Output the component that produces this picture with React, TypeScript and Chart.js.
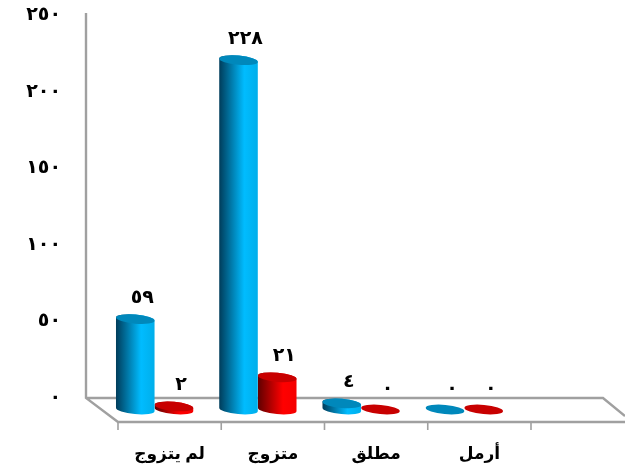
import React, { useEffect, useRef } from "react";
import { Chart, registerables } from "chart.js";

Chart.register(...registerables);

const categories = ["لم يتزوج", "متزوج", "مطلق", "أرمل"];
const blueValues = [59, 228, 4, 0];
const redValues = [2, 21, 0, 0];
const blueLabels = ["٥٩", "٢٢٨", "٤", "٠"];
const redLabels = ["٢", "٢١", "٠", "٠"];
const yTickLabels: Record<number, string> = { 0: "٠", 50: "٥٠", 100: "١٠٠", 150: "١٥٠", 200: "٢٠٠", 250: "٢٥٠" };

const FAMILY = "'Liberation Serif', 'DejaVu Sans', serif";
const DEPTH_X = -15;
const DEPTH_Y = 11.5;
const TILT = 0.09;
const RY = 4.6;

const shades = [
  { dark: "#003c5a", mid: "#00bcff", end: "#00aeea", cap: "#0088bb" },
  { dark: "#5f0000", mid: "#ff0000", end: "#f40000", cap: "#c80000" },
];

function cylinder(ctx: CanvasRenderingContext2D, bar: any, ds: number) {
  const s = shades[ds];
  const rx = bar.width / 2;
  const cx = bar.x + DEPTH_X;
  const top = bar.y + DEPTH_Y;
  const bottom = bar.base + DEPTH_Y;
  if (bottom - top > 0.5) {
    const g = ctx.createLinearGradient(cx - rx, 0, cx + rx, 0);
    g.addColorStop(0, s.dark);
    g.addColorStop(0.65, s.mid);
    g.addColorStop(1, s.end);
    ctx.fillStyle = g;
    ctx.beginPath();
    ctx.ellipse(cx, top, rx, RY, TILT, Math.PI, 0, false);
    ctx.ellipse(cx, bottom, rx, RY, TILT, 0, Math.PI, false);
    ctx.closePath();
    ctx.fill();
  }
  ctx.fillStyle = s.cap;
  ctx.beginPath();
  ctx.ellipse(cx, top, rx, RY, TILT, 0, Math.PI * 2);
  ctx.fill();
}

const scene = {
  id: "scene",
  beforeDraw(chart: any) {
    chart.ctx.letterSpacing = "3px";
  },
  beforeDatasetsDraw(chart: any) {
    const { ctx, chartArea: a } = chart;
    ctx.letterSpacing = "0px";
    ctx.save();
    ctx.strokeStyle = "#a0a0a0";
    ctx.lineWidth = 2.4;
    ctx.lineJoin = "miter";
    const backX = a.left - 32;
    const frontY = a.bottom + 24;
    ctx.beginPath();
    ctx.moveTo(backX, a.top - 2);
    ctx.lineTo(backX, a.bottom);
    ctx.lineTo(a.left, frontY);
    ctx.lineTo(chart.width, frontY);
    ctx.moveTo(backX, a.bottom);
    ctx.lineTo(a.right + 72, a.bottom);
    ctx.lineTo(chart.width, a.bottom + 18);
    ctx.stroke();
    const x = chart.scales.x;
    ctx.lineWidth = 1.6;
    ctx.beginPath();
    for (let i = 0; i <= categories.length; i++) {
      const tx = a.left + (i * (x.right - x.left)) / categories.length;
      ctx.moveTo(tx, frontY);
      ctx.lineTo(tx, frontY + 8);
    }
    ctx.stroke();
    ctx.restore();
  },
  beforeDatasetDraw(chart: any, args: any) {
    const ctx = chart.ctx;
    ctx.save();
    chart.getDatasetMeta(args.index).data.forEach((bar: any) => cylinder(ctx, bar, args.index));
    ctx.restore();
    return false;
  },
  afterDatasetsDraw(chart: any) {
    const ctx = chart.ctx;
    ctx.save();
    ctx.fillStyle = "#000";
    ctx.font = `bold 19px ${FAMILY}`;
    ctx.textAlign = "center";
    ctx.textBaseline = "alphabetic";
    ctx.letterSpacing = "3px";
    [blueLabels, redLabels].forEach((labels, ds) => {
      chart.getDatasetMeta(ds).data.forEach((bar: any, i: number) => {
        ctx.fillText(labels[i], bar.x + DEPTH_X + 7, bar.y + DEPTH_Y - 16);
      });
    });
    ctx.restore();
    ctx.letterSpacing = "0px";
  },
};

export default function App() {
  const ref = useRef<HTMLCanvasElement>(null);
  useEffect(() => {
    document.body.style.margin = "0";
    const chart = new Chart(ref.current!, {
      type: "bar",
      data: {
        labels: categories,
        datasets: [
          { data: blueValues, backgroundColor: "#00bcff" },
          { data: redValues, backgroundColor: "#ff0000" },
        ],
      },
      options: {
        animation: false,
        responsive: false,
        layout: { padding: { top: 15, right: 94, left: 0, bottom: 0 } },
        categoryPercentage: 0.75,
        barPercentage: 1,
        plugins: { legend: { display: false }, tooltip: { enabled: false } },
        scales: {
          x: {
            grid: { display: false, drawTicks: false },
            border: { display: false },
            afterFit: (s: any) => { s.height = 68; s.paddingLeft = 0; s.paddingRight = 0; },
            ticks: { z: 1, padding: 46, maxRotation: 0, autoSkip: false, color: "#000", font: { family: FAMILY, size: 17, weight: "bold" } },
          },
          y: {
            min: 0,
            max: 250,
            grid: { display: false, drawTicks: false },
            border: { display: false },
            afterFit: (s: any) => { s.width = 118; s.paddingTop = 0; s.paddingBottom = 0; },
            ticks: { stepSize: 50, padding: 57, color: "#000", callback: (v: any) => yTickLabels[v], font: { family: FAMILY, size: 19, weight: "bold" } },
          },
        },
      } as any,
      plugins: [scene],
    });
    return () => chart.destroy();
  }, []);
  return <canvas ref={ref} width={625} height={466} style={{ display: "block" }} />;
}
